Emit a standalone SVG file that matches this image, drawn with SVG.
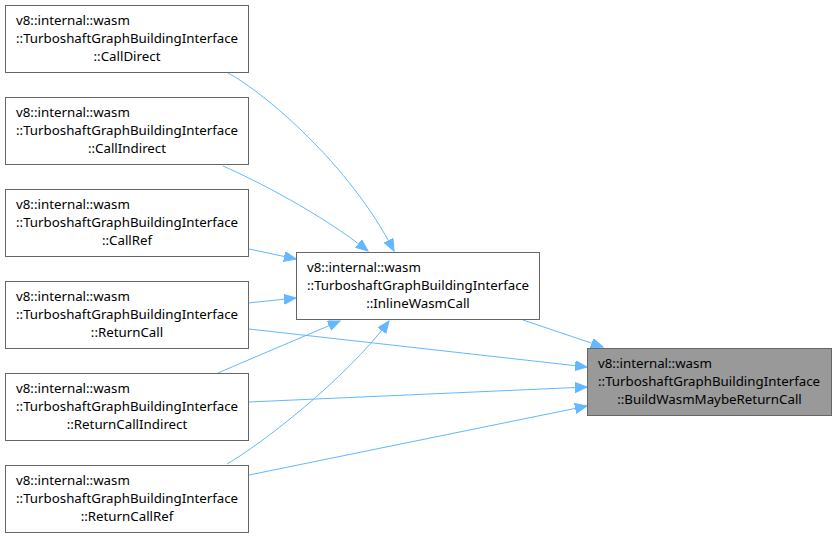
<svg xmlns="http://www.w3.org/2000/svg" width="837" height="538" viewBox="0 0 837 538">
<style>
.n rect{fill:#fff;stroke:#666;stroke-width:1}
.n.hl rect{fill:#999}
.n text{font-family:"Noto Sans","DejaVu Sans",sans-serif;font-size:13.3px;fill:#000}
.e path{fill:none;stroke:#63b8ff;stroke-width:1}
</style>
<defs>
<marker id="a" markerWidth="14" markerHeight="12" refX="12" refY="5" orient="auto" markerUnits="userSpaceOnUse"><path d="M0,0 L12,5 L0,10 Z" fill="#63b8ff" stroke="#63b8ff" stroke-width="1"/></marker>
</defs>
<g id="edges" class="e">
<path d="M228,73 C265,93 350,165 394,251" marker-end="url(#a)"/>
<path d="M223,166 C255,180 320,213 368,251" marker-end="url(#a)"/>
<path d="M249,249 L296,259" marker-end="url(#a)"/>
<path d="M248,303 L296,298" marker-end="url(#a)"/>
<path d="M218,373 C255,357 300,338 340,321" marker-end="url(#a)"/>
<path d="M227,464 C260,445 345,380 389,321" marker-end="url(#a)"/>
<path d="M523,320 L603,347" marker-end="url(#a)"/>
<path d="M249,329 L587,367" marker-end="url(#a)"/>
<path d="M249,402 L587,387" marker-end="url(#a)"/>
<path d="M249,475 L587,406" marker-end="url(#a)"/>
</g>
<g id="node1" class="n"><rect x="5.5" y="5.5" width="243" height="67"/><text x="16" y="24.5">v8::internal::wasm</text><text x="16" y="42.5">::TurboshaftGraphBuildingInterface</text><text x="127" y="60.5" text-anchor="middle">::CallDirect</text></g>
<g id="node2" class="n"><rect x="5.5" y="97.5" width="243" height="67"/><text x="16" y="116.5">v8::internal::wasm</text><text x="16" y="134.5">::TurboshaftGraphBuildingInterface</text><text x="127" y="152.5" text-anchor="middle">::CallIndirect</text></g>
<g id="node3" class="n"><rect x="5.5" y="189.5" width="243" height="67"/><text x="16" y="208.5">v8::internal::wasm</text><text x="16" y="226.5">::TurboshaftGraphBuildingInterface</text><text x="127" y="244.5" text-anchor="middle">::CallRef</text></g>
<g id="node4" class="n"><rect x="5.5" y="281.5" width="243" height="67"/><text x="16" y="300.5">v8::internal::wasm</text><text x="16" y="318.5">::TurboshaftGraphBuildingInterface</text><text x="127" y="336.5" text-anchor="middle">::ReturnCall</text></g>
<g id="node5" class="n"><rect x="5.5" y="373.5" width="243" height="67"/><text x="16" y="392.5">v8::internal::wasm</text><text x="16" y="410.5">::TurboshaftGraphBuildingInterface</text><text x="127" y="428.5" text-anchor="middle">::ReturnCallIndirect</text></g>
<g id="node6" class="n"><rect x="5.5" y="465.5" width="243" height="67"/><text x="16" y="484.5">v8::internal::wasm</text><text x="16" y="502.5">::TurboshaftGraphBuildingInterface</text><text x="127" y="520.5" text-anchor="middle">::ReturnCallRef</text></g>
<g id="node7" class="n"><rect x="296.5" y="252.5" width="243" height="67"/><text x="307" y="271.5">v8::internal::wasm</text><text x="307" y="289.5">::TurboshaftGraphBuildingInterface</text><text x="418" y="307.5" text-anchor="middle">::InlineWasmCall</text></g>
<g id="node8" class="n hl"><rect x="587.5" y="348.5" width="244" height="67"/><text x="598" y="367.5">v8::internal::wasm</text><text x="598" y="385.5">::TurboshaftGraphBuildingInterface</text><text x="709.5" y="403.5" text-anchor="middle">::BuildWasmMaybeReturnCall</text></g>
</svg>
